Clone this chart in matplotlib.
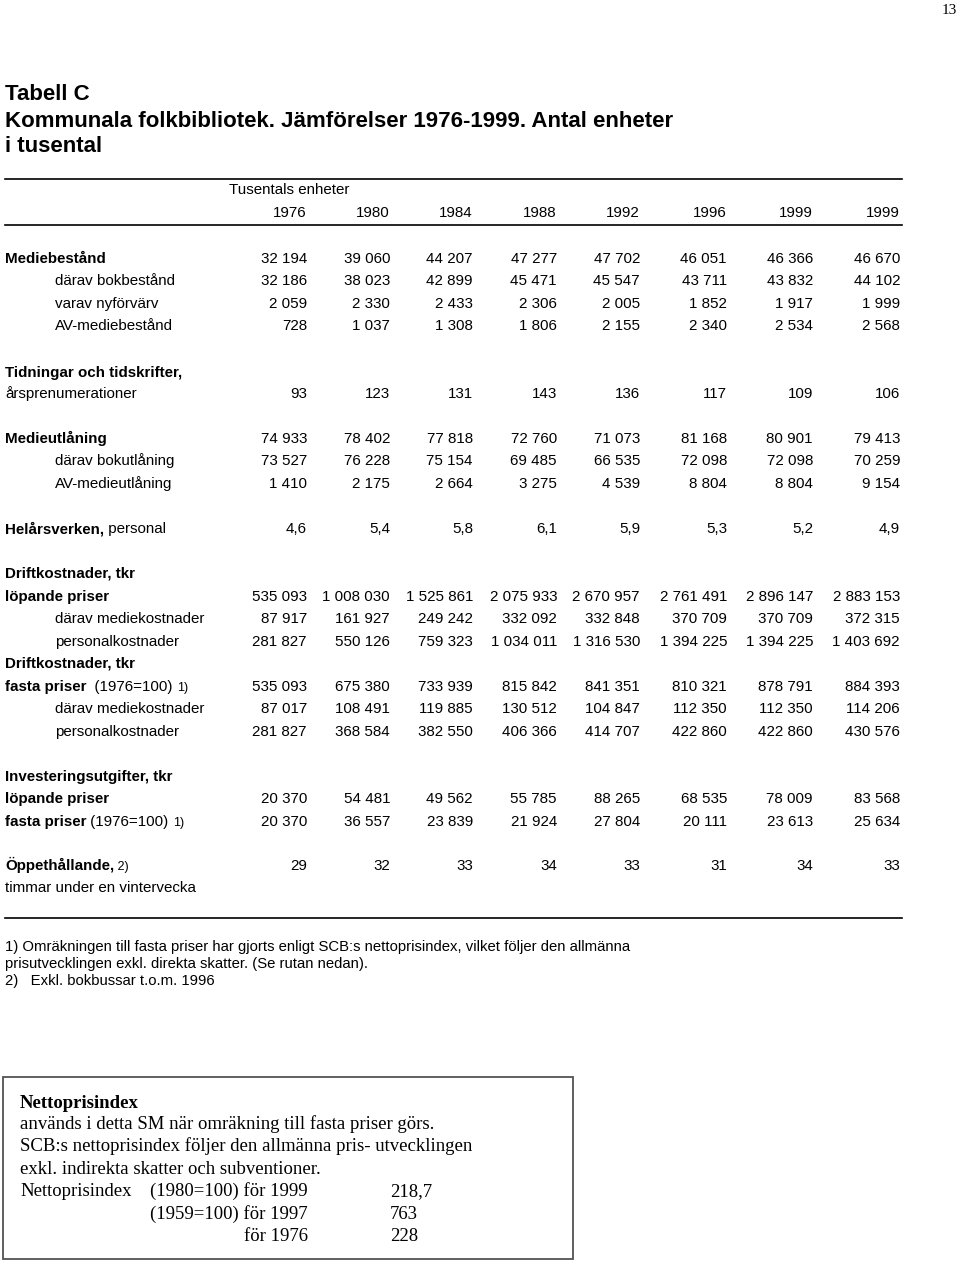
import matplotlib
matplotlib.use("Agg")
import matplotlib.pyplot as plt

years = ['1976', '1980', '1984', '1988', '1992', '1996', '1999', '1999']
mediebestand = [32194, 39060, 44207, 47277, 47702, 46051, 46366, 46670]
bokbestand = [32186, 38023, 42899, 45471, 45547, 43711, 43832, 44102]
nyforvarv = [2059, 2330, 2433, 2306, 2005, 1852, 1917, 1999]
av_mediebestand = [728, 1037, 1308, 1806, 2155, 2340, 2534, 2568]
prenumerationer = [93, 123, 131, 143, 136, 117, 109, 106]
medieutlaning = [74933, 78402, 77818, 72760, 71073, 81168, 80901, 79413]
bokutlaning = [73527, 76228, 75154, 69485, 66535, 72098, 72098, 70259]
av_medieutlaning = [1410, 2175, 2664, 3275, 4539, 8804, 8804, 9154]
helarsverken = [4.6, 5.4, 5.8, 6.1, 5.9, 5.3, 5.2, 4.9]
drift_lop = [535093, 1008030, 1525861, 2075933, 2670957, 2761491, 2896147, 2883153]
drift_lop_medie = [87917, 161927, 249242, 332092, 332848, 370709, 370709, 372315]
drift_lop_pers = [281827, 550126, 759323, 1034011, 1316530, 1394225, 1394225, 1403692]
drift_fast = [535093, 675380, 733939, 815842, 841351, 810321, 878791, 884393]
drift_fast_medie = [87017, 108491, 119885, 130512, 104847, 112350, 112350, 114206]
drift_fast_pers = [281827, 368584, 382550, 406366, 414707, 422860, 422860, 430576]
invest_lop = [20370, 54481, 49562, 55785, 88265, 68535, 78009, 83568]
invest_fast = [20370, 36557, 23839, 21924, 27804, 20111, 23613, 25634]
oppethallande = [29, 32, 33, 34, 33, 31, 34, 33]

footnotes = [
    "1) Omräkningen till fasta priser har gjorts enligt SCB:s nettoprisindex, vilket följer den allmänna",
    "prisutvecklingen exkl. direkta skatter. (Se rutan nedan).",
    "2)   Exkl. bokbussar t.o.m. 1996",
]
box_lines = [
    "används i detta SM när omräkning till fasta priser görs.",
    "SCB:s nettoprisindex följer den allmänna pris- utvecklingen",
    "exkl. indirekta skatter och subventioner.",
]
index_labels = ["(1980=100) för 1999", "(1959=100) för 1997", "för 1976"]
index_values = ["218,7", "763", "228"]

SANS = "Liberation Sans"
SERIF = "Liberation Serif"
FS = 10.9

fig = plt.figure(figsize=(9.6, 12.62), dpi=100)
ax = fig.add_axes([0, 0, 1, 1])
ax.set_xlim(0, 960)
ax.set_ylim(1262, 0)
ax.axis("off")
renderer = fig.canvas.get_renderer()


def fmt(v):
    if isinstance(v, float):
        return f"{v:.1f}".replace(".", ",")
    return f"{v:,}".replace(",", " ")


def parts(x, y, segs):
    # segs: list of (text, weight, size)
    for text, weight, size in segs:
        t = ax.text(x, y, text, fontsize=size, fontweight=weight, family=SANS,
                    va="baseline", ha="left")
        bb = t.get_window_extent(renderer=renderer)
        x += bb.width


col_right = [307, 390, 473, 557, 640, 727, 813, 900]

# page number and title
ax.text(957, 14, "13", family=SERIF, fontsize=11, ha="right", va="baseline")
for txt, y in [("Tabell C", 93), ("Kommunala folkbibliotek. Jämförelser 1976-1999. Antal enheter", 120),
               ("i tusental", 145)]:
    ax.text(5, y + 7, txt, family=SANS, fontsize=16, fontweight="bold", va="baseline")

# header
ax.plot([5, 902], [179, 179], color="black", lw=1.2)
ax.text(229, 189 + 5, "Tusentals enheter", family=SANS, fontsize=FS, va="baseline")
for xr, yr in zip(col_right, years):
    ax.text(xr, 212 + 5, yr, family=SANS, fontsize=FS, ha="right", va="baseline")
ax.plot([5, 902], [225, 225], color="black", lw=1.2)

rows = [
    (258, [("Mediebestånd", "bold", FS)], 5, mediebestand),
    (280, [("därav bokbestånd", "normal", FS)], 55, bokbestand),
    (303, [("varav nyförvärv", "normal", FS)], 55, nyforvarv),
    (325, [("AV-mediebestånd", "normal", FS)], 55, av_mediebestand),
    (372, [("Tidningar och tidskrifter,", "bold", FS)], 5, None),
    (393, [("årsprenumerationer", "normal", FS)], 5, prenumerationer),
    (438, [("Medieutlåning", "bold", FS)], 5, medieutlaning),
    (460, [("därav bokutlåning", "normal", FS)], 55, bokutlaning),
    (483, [("AV-medieutlåning", "normal", FS)], 55, av_medieutlaning),
    (528, [("Helårsverken,", "bold", FS), (" personal", "normal", FS)], 5, helarsverken),
    (573, [("Driftkostnader, tkr", "bold", FS)], 5, None),
    (596, [("löpande priser", "bold", FS)], 5, drift_lop),
    (618, [("därav mediekostnader", "normal", FS)], 55, drift_lop_medie),
    (641, [("personalkostnader", "normal", FS)], 55, drift_lop_pers),
    (663, [("Driftkostnader, tkr", "bold", FS)], 5, None),
    (686, [("fasta priser", "bold", FS), ("  (1976=100) ", "normal", FS), ("1)", "normal", 9)], 5, drift_fast),
    (708, [("därav mediekostnader", "normal", FS)], 55, drift_fast_medie),
    (731, [("personalkostnader", "normal", FS)], 55, drift_fast_pers),
    (776, [("Investeringsutgifter, tkr", "bold", FS)], 5, None),
    (798, [("löpande priser", "bold", FS)], 5, invest_lop),
    (821, [("fasta priser", "bold", FS), (" (1976=100) ", "normal", FS), ("1)", "normal", 9)], 5, invest_fast),
    (865, [("Öppethållande,", "bold", FS), (" 2)", "normal", 9)], 5, oppethallande),
    (887, [("timmar under en vintervecka", "normal", FS)], 5, None),
]

for y, label, x0, vals in rows:
    parts(x0, y + 5, label)
    if vals is not None:
        for xr, v in zip(col_right, vals):
            ax.text(xr, y + 5, fmt(v), family=SANS, fontsize=FS, ha="right", va="baseline")

ax.plot([5, 902], [918, 918], color="black", lw=1.2)

for txt, y in zip(footnotes, [946, 963, 980]):
    ax.text(5, y + 5, txt, family=SANS, fontsize=10.7, va="baseline")

# Nettoprisindex box
ax.add_patch(plt.Rectangle((3, 1077), 570, 182, fill=False, edgecolor="#444444", lw=1.2))
ax.text(20, 1102 + 6, "Nettoprisindex", family=SERIF, fontsize=13.5, fontweight="bold", va="baseline")
for txt, y in zip(box_lines, [1123, 1145, 1168]):
    ax.text(20, y + 6, txt, family=SERIF, fontsize=13.5, va="baseline")
ax.text(20, 1190 + 6, "Nettoprisindex", family=SERIF, fontsize=13.5, va="baseline")
for lab, val, y in zip(index_labels, index_values, [1190, 1213, 1235]):
    ax.text(308, y + 6, lab, family=SERIF, fontsize=13.5, ha="right", va="baseline")
    ax.text(390, y + 6, val, family=SERIF, fontsize=13.5, va="baseline")

fig.savefig("out.png", dpi=100, facecolor="white")
